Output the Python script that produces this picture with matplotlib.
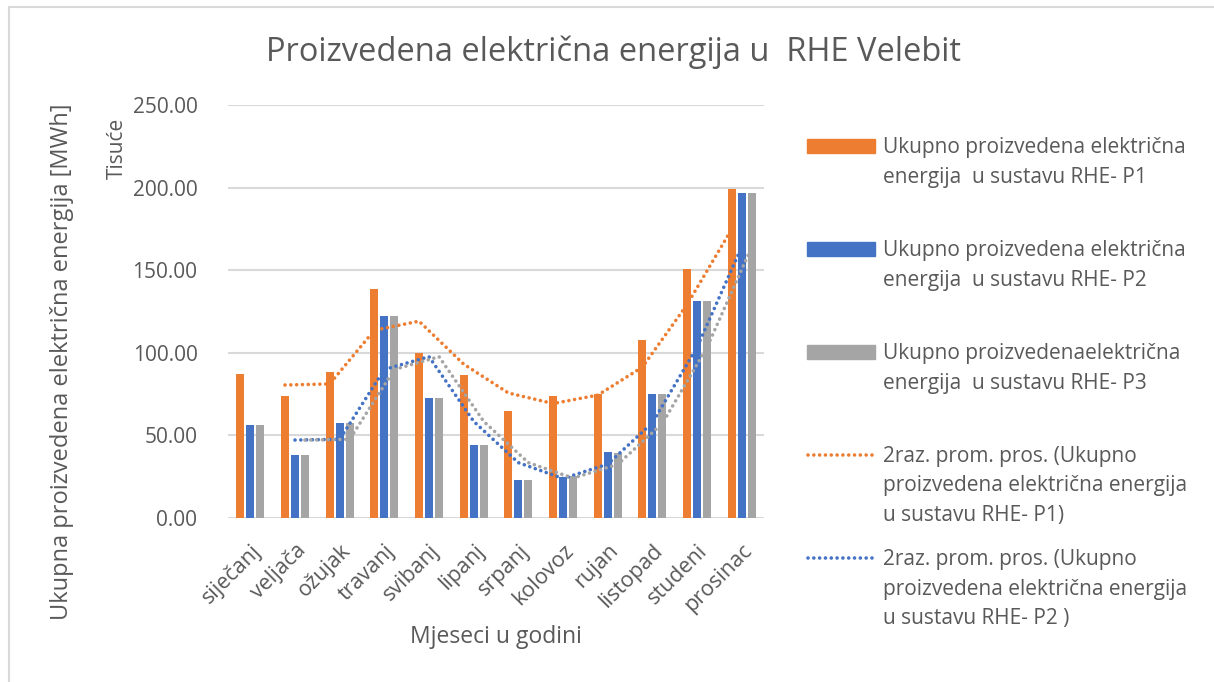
import numpy as np
import matplotlib
matplotlib.use("Agg")
import matplotlib.pyplot as plt
from matplotlib.lines import Line2D
from matplotlib.patches import Rectangle

months = ["siječanj", "veljača", "ožujak", "travanj", "svibanj", "lipanj",
          "srpanj", "kolovoz", "rujan", "listopad", "studeni", "prosinac"]
p1 = [87.3, 73.7, 88.6, 138.6, 99.7, 86.6, 64.8, 73.8, 74.9, 107.7, 150.5, 199.2]
p2 = [56.4, 38.0, 57.3, 122.5, 72.8, 44.2, 22.8, 25.0, 40.2, 75.0, 131.6, 196.5]
p3 = [56.4, 38.0, 57.3, 122.5, 72.8, 44.2, 22.8, 25.5, 39.4, 75.0, 131.6, 196.5]
yticks = [0, 50, 100, 150, 200, 250]

C_OR, C_BL, C_GR = "#ED7D31", "#4472C4", "#A5A5A5"
TXT = "#595959"
GRID = "#D9D9D9"
FONT = "Open Sans"
plt.rcParams["font.family"] = [FONT, "DejaVu Sans"]

W, H = 1214, 682
fig = plt.figure(figsize=(W / 100, H / 100), dpi=100)

def fx(px):
    return px / W

def fy(py):
    return 1 - py / H

ax = fig.add_axes([fx(228), fy(518), fx(764) - fx(228), fy(105) - fy(518)])
x = np.arange(len(months))
bw = 0.175
off = 0.224
series = [(p1, C_OR), (p2, C_BL), (p3, C_GR)]
for k, (vals, col) in enumerate(series):
    ax.bar(x + (k - 1) * off, vals, width=bw, color=col, zorder=2)

# 2-period moving averages (Excel trendline)
for k, (vals, col) in enumerate(series):
    v = np.asarray(vals)
    ma = (v[1:] + v[:-1]) / 2
    ax.plot(x[1:] + (k - 1) * off, ma, color=col, lw=2.6, linestyle=(0, (0.01, 1.6)),
            dash_capstyle="round", solid_capstyle="round", zorder=3)

ax.set_xlim(-0.5, len(months) - 0.5)
ax.set_ylim(0, 250)
ax.set_yticks(yticks)
ax.set_yticklabels([f"{t:.2f}" for t in yticks], color=TXT, fontsize=15)
ax.yaxis.grid(True, color=GRID, lw=1.5, zorder=0)
ax.set_axisbelow(True)
for s in ax.spines.values():
    s.set_visible(False)
ax.tick_params(axis="y", length=0, pad=22)
ax.tick_params(axis="x", length=0, pad=16)
ax.set_xticks(x)
ax.set_xticklabels(months, rotation=45, ha="right", va="top", rotation_mode="anchor",
                   color=TXT, fontsize=15.5)

fig.text(fx(614), fy(52), "Proizvedena električna energija u  RHE Velebit",
         ha="center", va="center", color=TXT, fontsize=23.5)
fig.text(fx(62), fy(362), "Ukupna proizvedena električna energija [MWh]",
         rotation=90, ha="center", va="center", color=TXT, fontsize=17)
fig.text(fx(117), fy(148), "Tisuće", rotation=90, ha="center", va="center",
         color=TXT, fontsize=15)
fig.text(fx(496), fy(637), "Mjeseci u godini", ha="center", va="center",
         color=TXT, fontsize=16.5)

# legend
entries = [
    ("patch", C_OR, 146, ["Ukupno proizvedena električna", "energija  u sustavu RHE- P1"]),
    ("patch", C_BL, 249, ["Ukupno proizvedena električna", "energija  u sustavu RHE- P2"]),
    ("patch", C_GR, 352, ["Ukupno proizvedenaelektrična", "energija  u sustavu RHE- P3"]),
    ("line", C_OR, 455, ["2raz. prom. pros. (Ukupno", "proizvedena električna energija",
                         "u sustavu RHE- P1)"]),
    ("line", C_BL, 558, ["2raz. prom. pros. (Ukupno", "proizvedena električna energija",
                         "u sustavu RHE- P2 )"]),
]
for kind, col, yc, lines in entries:
    if kind == "patch":
        fig.add_artist(Rectangle((fx(807), fy(yc + 7)), fx(875) - fx(807), fy(yc - 7) - fy(yc + 7),
                                 transform=fig.transFigure, color=col))
    else:
        fig.add_artist(Line2D([fx(808), fx(875)], [fy(yc), fy(yc)], transform=fig.transFigure,
                              color=col, lw=2.6, linestyle=(0, (0.01, 1.6)),
                              dash_capstyle="round"))
    for i, t in enumerate(lines):
        fig.text(fx(883), fy(yc + 7 + i * 29.5), t, ha="left", va="baseline",
                 color=TXT, fontsize=15)

# chart frame
fig.add_artist(Line2D([fx(9), fx(9)], [fy(7), fy(700)], transform=fig.transFigure,
                      color=GRID, lw=1.5))
fig.add_artist(Line2D([fx(9), fx(1230)], [fy(7), fy(7)], transform=fig.transFigure,
                      color=GRID, lw=1.5))

fig.savefig("out.png", dpi=100, facecolor="white")
